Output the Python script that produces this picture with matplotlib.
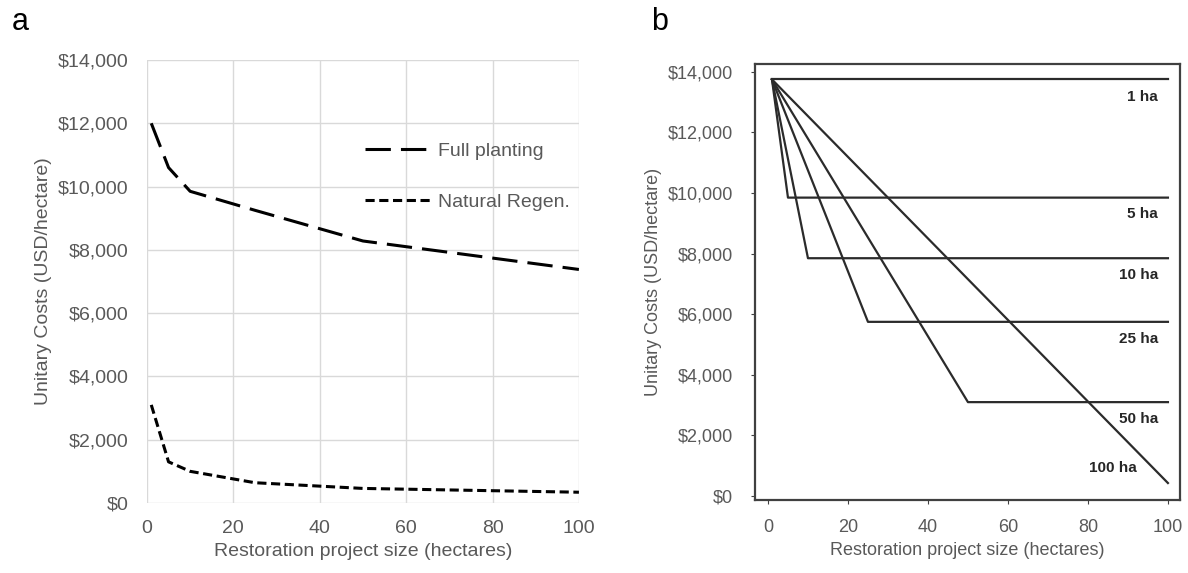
import matplotlib.pyplot as plt
from matplotlib.ticker import FuncFormatter

plt.rcParams['font.family'] = ['Liberation Sans', 'DejaVu Sans']

# panel a: unit cost curves
size_a = [1, 5, 10, 25, 50, 100]
full_planting = [12000, 10600, 9850, 9250, 8280, 7380]
natural_regen = [3100, 1300, 1000, 640, 460, 340]

# panel b: cost paths for project sizes
project_sizes = [1, 5, 10, 25, 50, 100]
start_cost = 13750
end_costs = [13750, 9850, 7850, 5750, 3100, 430]
size_labels = ['1 ha', '5 ha', '10 ha', '25 ha', '50 ha', '100 ha']
label_y = [13170, 9300, 7280, 5170, 2530, 920]

grey = '#595959'
money = FuncFormatter(lambda v, p: '${:,.0f}'.format(v))

fig = plt.figure(figsize=(11.88, 5.73), dpi=100)

# ---- panel a ----
ax = fig.add_axes([0.1237, 0.1222, 0.3636, 0.7731])
ax.plot(size_a, full_planting, color='black', lw=2.2, dashes=(8.3, 3.3),
        label='Full planting')
ax.plot(size_a, natural_regen, color='black', lw=2.2, dashes=(3, 1.5),
        label='Natural Regen.')
ax.set_xlim(0, 100)
ax.set_ylim(0, 14000)
ax.set_xticks(range(0, 101, 20))
ax.set_yticks(range(0, 14001, 2000))
ax.yaxis.set_major_formatter(money)
ax.grid(True, color='#d9d9d9', lw=1)
ax.set_axisbelow(True)
for s in ax.spines.values():
    s.set_visible(False)
ax.tick_params(length=0, labelsize=14, labelcolor=grey)
ax.tick_params(axis='y', pad=13.5)
ax.tick_params(axis='x', pad=12.5)
ax.set_xlabel('Restoration project size (hectares)', fontsize=14, color=grey)
ax.set_ylabel('Unitary Costs (USD/hectare)', fontsize=14, color=grey)
ax.legend(loc='upper left', bbox_to_anchor=(0.505, 0.815), frameon=False,
          fontsize=14, handlelength=3.45, handletextpad=0.3,
          labelspacing=1.72, borderpad=0, borderaxespad=0,
          labelcolor=grey)
fig.text(0.010, 0.962, 'a', fontsize=22, va='center')

# ---- panel b ----
bx = fig.add_axes([0.6355, 0.1274, 0.3577, 0.7609])
for n, c in zip(project_sizes, end_costs):
    bx.plot([1, n, 100], [start_cost, c, c], color='#2b2b2b', lw=1.6)
for lab, y in zip(size_labels, label_y):
    xr = 92.3 if lab == '100 ha' else 97.5
    bx.text(xr, y, lab, ha='right', va='center', fontsize=11,
            fontweight='bold', color='#262626')
bx.set_xlim(-3.25, 103)
bx.set_ylim(-130, 14260)
bx.set_xticks(range(0, 101, 20))
bx.set_yticks(range(0, 14001, 2000))
bx.yaxis.set_major_formatter(money)
for s in bx.spines.values():
    s.set_color('#404040')
    s.set_linewidth(1.6)
bx.tick_params(direction='out', length=3, color='#404040',
               labelsize=13, labelcolor=grey)
bx.tick_params(axis='y', pad=13)
bx.tick_params(axis='x', pad=11)
bx.set_xlabel('Restoration project size (hectares)', fontsize=13, color=grey)
bx.set_ylabel('Unitary Costs (USD/hectare)', fontsize=13, color=grey)
fig.text(0.548, 0.962, 'b', fontsize=22, va='center')

fig.savefig('out.png', dpi=100)
